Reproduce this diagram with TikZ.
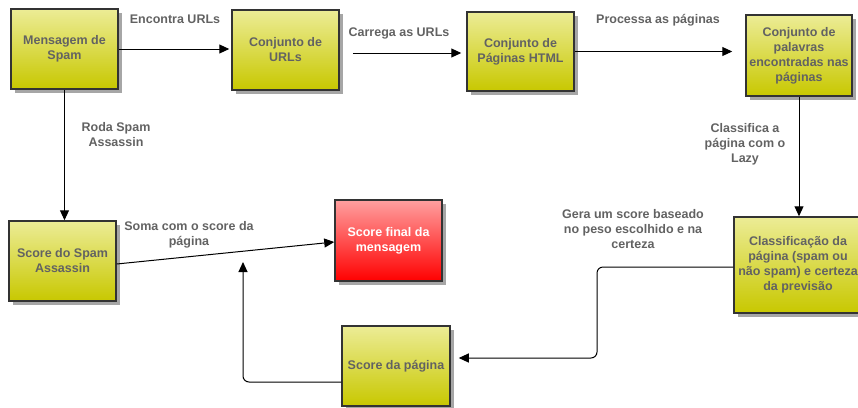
\documentclass[tikz,border=0pt]{standalone}
\usepackage{fontspec}
\setmainfont{Liberation Sans}
\usetikzlibrary{arrows.meta,shadows}
\definecolor{txt}{HTML}{626262}
\definecolor{boxline}{HTML}{333333}
\definecolor{ytop}{RGB}{236,236,150}
\definecolor{ybot}{RGB}{200,200,0}
\definecolor{rtop}{RGB}{255,160,160}
\definecolor{rbot}{RGB}{255,0,0}
\begin{document}
\begin{tikzpicture}[x=1pt,y=-1pt,
  font=\fontsize{12.5}{15}\selectfont\bfseries,
  box/.style={draw=boxline, line width=1.5pt, inner sep=0pt, align=center, text=txt,
    top color=ytop, bottom color=ybot,
    drop shadow={shadow xshift=4pt, shadow yshift=-4pt, fill=black!35, opacity=1}},
  redbox/.style={box, top color=rtop, bottom color=rbot, text=white},
  lbl/.style={text=txt, align=center, inner sep=0pt},
  arr/.style={draw=black, line width=1pt, -{Triangle[length=10pt,width=9pt]}},
]
\useasboundingbox (0,0) rectangle (858,407);

\node[box, minimum width=107pt, minimum height=80pt] (msg) at (64.5,49) {Mensagem de\\Spam};
\node[box, minimum width=107pt, minimum height=80pt] (urls) at (285.5,50) {Conjunto de\\URLs};
\node[box, minimum width=107pt, minimum height=79pt] (html) at (520.5,51.5) {Conjunto de\\Páginas HTML};
\node[box, minimum width=106pt, minimum height=81pt] (words) at (799,55.5) {Conjunto de\\palavras\\encontradas nas\\páginas};
\node[box, minimum width=128pt, minimum height=96pt] (class) at (798,265) {Classificação da\\página (spam ou\\não spam) e certeza\\da previsão};
\node[box, minimum width=107pt, minimum height=80pt] (sa) at (62.5,261) {Score do Spam\\Assassin};
\node[redbox, minimum width=107pt, minimum height=81pt] (final) at (388.5,240.5) {Score final da\\mensagem};
\node[box, minimum width=108pt, minimum height=80pt] (pscore) at (396,366) {Score da página};

\node[lbl] (l1) at (175,19) {Encontra URLs};
\node[lbl] (l2) at (399,33) {Carrega as URLs};
\node[lbl] (l3) at (658,20) {Processa as páginas};
\node[lbl] (l4) at (116,135) {Roda Spam\\Assassin};
\node[lbl] (l5) at (189,235) {Soma com o score da\\página};
\node[lbl] (l6) at (745,144) {Classifica a\\página com o\\Lazy};
\node[lbl] (l7) at (633,229) {Gera um score baseado\\no peso escolhido e na\\certeza};

\coordinate (bend1) at (597,358);
\coordinate (upend) at (243,262);

\draw[arr] (msg.east) -- ([shift={(-2,0)}]msg.east -| urls.west);
\draw[arr] ([shift={(13,3)}]urls.east) -- ([shift={(-5,1.5)}]html.west);
\draw[arr] (html.east) -- ([shift={(-13,0)}]html.east -| words.west);
\draw[arr] (words.south) -- (words.south |- class.north);
\draw[arr] (msg.south) -- (msg.south |- sa.north);
\draw[arr] ([shift={(0,3)}]sa.east) -- ([shift={(0,1.5)}]final.west);
\draw[arr, rounded corners=6pt] ([shift={(0,2)}]class.west) -| (bend1) -- ([shift={(8,-8)}]pscore.east);
\draw[arr, rounded corners=6pt] ([shift={(0,16)}]pscore.west) -| (upend);
\end{tikzpicture}
\end{document}
